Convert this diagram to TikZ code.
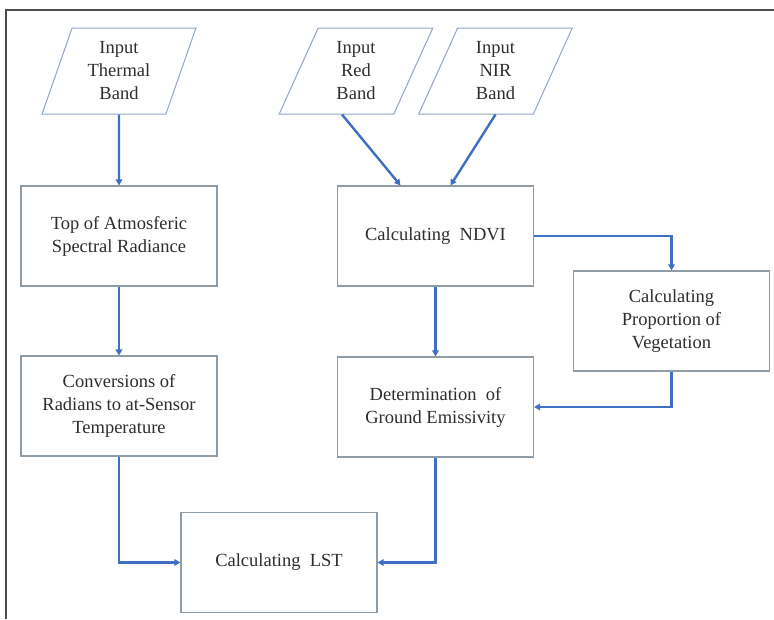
\documentclass[tikz,border=0pt]{standalone}
\usepackage{fontspec}
\setmainfont{Liberation Serif}
\usetikzlibrary{positioning,arrows.meta,calc,shapes.geometric}
\definecolor{lineBox}{HTML}{8E9CA8}
\definecolor{lineIn}{HTML}{90A6C6}
\definecolor{flowBlue}{HTML}{3F6FC2}
\definecolor{textMain}{HTML}{2E2E2E}
\definecolor{frameGray}{HTML}{4E4E4E}
\tikzset{
  procbox/.style ={draw=lineBox,line width=1.1pt,fill=white,
                   minimum width=196pt,minimum height=100pt,
                   inner sep=0pt,align=center},
  inbox/.style   ={trapezium,trapezium left angle=71,
                   trapezium right angle=109,trapezium stretches=true,
                   draw=lineIn,line width=1pt,
                   minimum width=154pt,minimum height=86pt,
                   inner sep=0pt,align=center},
  flow/.style    ={draw=flowBlue,line width=2.4pt,
                   -{Triangle[length=6pt,width=6.5pt]}},
}

\begin{document}
\begin{tikzpicture}[x=1pt,y=-1pt,
          every node/.style={font=\fontsize{18.5pt}{23pt}\selectfont,
                             text=textMain},
        ]
        \useasboundingbox (0,0) rectangle (774,619);
        \draw[frameGray,line width=2pt] (6,619) -- (6,10) -- (774,10);
        \node[inbox]   (therm) at (119, 71)    {Input\\Thermal\\Band};
        \node[inbox]   (red)   at (356, 71)    {Input\\Red\\Band};
        \node[inbox]   (nir)   at (495.5, 71)  {Input\\NIR\\Band};
        \node[procbox] (toa)   at (119, 236)   {Top of Atmosferic\\Spectral Radiance};
        \node[procbox] (conv)  at (119, 406)   {Conversions of\\Radians to at-Sensor\\Temperature};
        \node[procbox] (ndvi)  at (435.5, 236) {Calculating\ \ NDVI};
        \node[procbox] (emis)  at (435.5, 407) {Determination\ \ of\\Ground Emissivity};
        \node[procbox] (pveg)  at (671.5, 321) {Calculating\\Proportion of\\Vegetation};
        \node[procbox] (lst)   at (279, 562.5) {Calculating\ \ LST};
        \draw[flow] (therm.south) -- (toa.north);
        \draw[flow] ($(red.south)+(-14,0)$) -- ($(ndvi.north)+(-35,0)$);
        \draw[flow] (nir.south) -- ($(ndvi.north)+(15,0)$);
        \draw[flow] (toa.south) -- (conv.north);
        \draw[flow] (ndvi.south) -- (emis.north);
        \draw[flow] (ndvi.east) -| (pveg.north);
        \draw[flow] (pveg.south) |- (emis.east);
        \draw[flow] (conv.south) |- (lst.west);
        \draw[flow] (emis.south) |- (lst.east);
      \end{tikzpicture}
\end{document}
